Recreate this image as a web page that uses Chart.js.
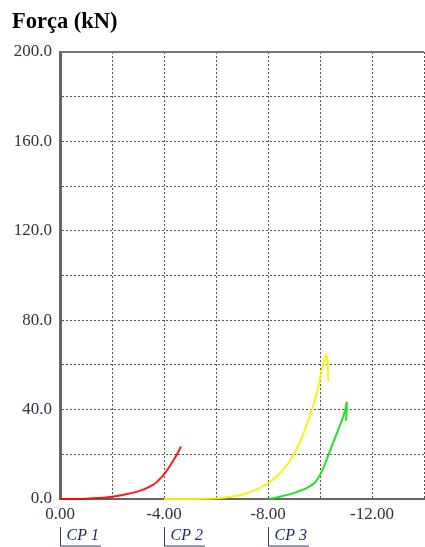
<!DOCTYPE html>
<html>
<head>
<meta charset="utf-8">
<script src="https://cdn.jsdelivr.net/npm/chart.js@4"></script>
<style>
  html, body { margin: 0; padding: 0; background: #ffffff; }
  canvas { display: block; }
</style>
</head>
<body>
<canvas id="chart" width="425" height="547"></canvas>
<script>
// Load–displacement curves for three test pieces (displacement in mm, force in kN)
const cp1X = [0, -0.5, -1.0, -1.5, -2.0, -2.5, -3.0, -3.4, -3.7, -4.0, -4.2, -4.4, -4.55, -4.65];
const cp1Y = [0, 0, 0.1, 0.4, 1.0, 2.0, 3.4, 5.2, 7.4, 11.0, 14.3, 18.0, 21.0, 23.5];

const cp2X = [-4.0, -5.0, -6.0, -6.5, -7.0, -7.5, -8.0, -8.5, -9.0, -9.4, -9.7, -9.9, -10.05, -10.15, -10.23, -10.28, -10.3, -10.32];
const cp2Y = [0, 0, 0.3, 0.9, 1.9, 4.0, 7.0, 12.0, 20.0, 30.5, 40.5, 48.5, 56.5, 61.5, 64.6, 62.5, 58.0, 52.5];

const cp3X = [-8.05, -8.3, -8.55, -8.9, -9.2, -9.5, -9.7, -9.85, -10.0, -10.15, -10.3, -10.45, -10.6, -10.75, -10.9, -10.97, -11.03, -11.02, -11.0];
const cp3Y = [0, 0.6, 1.3, 2.3, 3.5, 5.0, 6.3, 8.0, 10.8, 14.5, 19.0, 23.5, 28.0, 32.5, 37.0, 40.0, 43.2, 39.0, 35.0];

// Specimen markers under the displacement axis
const cpStarts = [0, -4, -8];
const cpNames = ['CP 1', 'CP 2', 'CP 3'];

const titleText = 'Força (kN)';

function toPoints(xs, ys) {
  return xs.map((x, i) => ({ x: x, y: ys[i] }));
}

const specimenMarkers = {
  id: 'specimenMarkers',
  afterDraw(chart) {
    const { ctx, chartArea, scales } = chart;
    ctx.save();
    // solid frame line along the top of the plot
    ctx.strokeStyle = '#777777';
    ctx.lineWidth = 2;
    ctx.beginPath();
    ctx.moveTo(chartArea.left, chartArea.top);
    ctx.lineTo(chartArea.right, chartArea.top);
    ctx.stroke();

    ctx.font = 'italic 16px "Liberation Serif"';
    ctx.textAlign = 'left';
    ctx.textBaseline = 'alphabetic';
    cpStarts.forEach((v, i) => {
      const px = Math.round(scales.x.getPixelForValue(v)) + 0.5;
      const yTop = chartArea.bottom + 28;
      const yBot = chartArea.bottom + 47;
      const w = ctx.measureText(cpNames[i]).width;
      ctx.strokeStyle = '#3a3f5a';
      ctx.lineWidth = 1;
      ctx.beginPath();
      ctx.moveTo(px, yTop);
      ctx.lineTo(px, yBot);
      ctx.lineTo(px + w + 8, yBot);
      ctx.stroke();
      ctx.fillStyle = '#1f2a66';
      ctx.fillText(cpNames[i], px + 6, chartArea.bottom + 41);
    });
    ctx.restore();
  }
};

const lineStyle = (color) => ({
  borderColor: color,
  backgroundColor: color,
  borderWidth: 2,
  pointRadius: 0,
  showLine: true,
  fill: false,
  tension: 0.35,
  clip: false
});

new Chart(document.getElementById('chart'), {
  type: 'scatter',
  data: {
    datasets: [
      Object.assign({ label: 'CP 1', data: toPoints(cp1X, cp1Y) }, lineStyle('rgba(255,0,0,0.9)')),
      Object.assign({ label: 'CP 2', data: toPoints(cp2X, cp2Y) }, lineStyle('rgba(245,245,0,0.95)')),
      Object.assign({ label: 'CP 3', data: toPoints(cp3X, cp3Y) }, lineStyle('rgba(20,225,20,0.95)'))
    ]
  },
  options: {
    responsive: false,
    devicePixelRatio: 1,
    animation: false,
    layout: { padding: { left: 12, right: 1, top: 0, bottom: 0 } },
    plugins: {
      legend: { display: false },
      tooltip: { enabled: false },
      title: {
        display: true,
        text: titleText,
        align: 'start',
        color: '#000000',
        font: { family: '"Liberation Serif"', size: 22.5, weight: 'bold', lineHeight: 1.2 },
        padding: { top: 9, bottom: 16 }
      }
    },
    scales: {
      x: {
        type: 'linear',
        min: -14,
        max: 0,
        reverse: true,
        afterFit(scale) {
          scale.height = 48;
          scale.paddingLeft = 0;
          scale.paddingRight = 0;
        },
        ticks: {
          stepSize: 2,
          autoSkip: false,
          maxRotation: 0,
          padding: 5,
          color: '#2f3347',
          font: { family: '"Liberation Serif"', size: 17 },
          callback: (v) => (Math.abs(v) % 4 === 0 ? Number(v).toFixed(2) : '')
        },
        grid: { color: '#555555', lineWidth: 1, drawTicks: false },
        border: { display: true, color: '#666666', width: 2, dash: [2, 2] }
      },
      y: {
        min: 0,
        max: 200,
        afterFit(scale) { scale.width = 48; },
        ticks: {
          stepSize: 20,
          autoSkip: false,
          padding: 8,
          color: '#2f3347',
          font: { family: '"Liberation Serif"', size: 17 },
          callback: (v) => (v % 40 === 0 ? Number(v).toFixed(1) : '')
        },
        grid: { color: '#555555', lineWidth: 1, drawTicks: false },
        border: { display: true, color: '#666666', width: 3, dash: [2, 2] }
      }
    }
  },
  plugins: [specimenMarkers]
});
</script>
</body>
</html>
